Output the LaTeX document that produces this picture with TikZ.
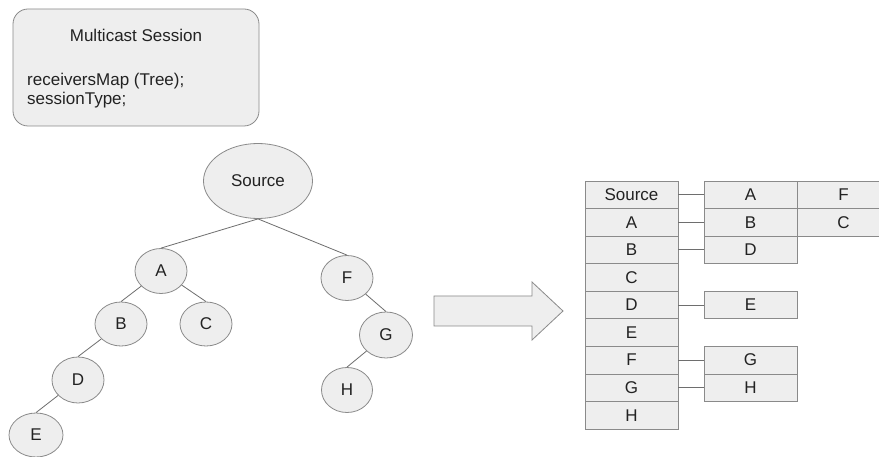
\documentclass[tikz,border=0pt]{standalone}
\usepackage{fontspec}
\setmainfont{Liberation Sans}
\usetikzlibrary{shapes.geometric}
\definecolor{cellfill}{HTML}{EEEEEE}
\definecolor{cellline}{HTML}{8A8A8A}
\definecolor{edgeline}{HTML}{6E6E6E}
\definecolor{txt}{HTML}{222222}
\begin{document}
\begin{tikzpicture}[x=1pt,y=-1pt,
  every node/.style={font=\fontsize{17}{19}\selectfont, text=txt},
  treenode/.style={ellipse, draw=cellline, fill=cellfill, inner sep=0pt, line width=0.8pt},
  cell/.style={rectangle, draw=cellline, fill=cellfill, inner sep=0pt, minimum width=93pt, minimum height=27.56pt, line width=0.8pt},
  edge/.style={draw=edgeline, line width=0.8pt},
]
\useasboundingbox (0,0) rectangle (879,457);
\fill[white] (0,0) rectangle (879,457);

% session box
\node[draw=cellline, fill=cellfill, rounded corners=15pt, minimum width=246pt, minimum height=117pt, line width=0.8pt, inner sep=0pt] (session) at (136,67.5) {};
\node (title) at (136,35) {Multicast Session};
\node[anchor=west, align=left, inner sep=0pt] (fields) at (27,91) {receiversMap (Tree);\\sessionType;};

% tree
\node[treenode, minimum width=109pt, minimum height=75pt] (S) at (258,181) {Source};
\node[treenode, minimum width=52pt, minimum height=45pt] (A) at (161,271) {A};
\node[treenode, minimum width=52pt, minimum height=45pt] (F) at (347,278) {F};
\node[treenode, minimum width=52pt, minimum height=44pt] (B) at (121,324) {B};
\node[treenode, minimum width=52pt, minimum height=44pt] (C) at (206,324) {C};
\node[treenode, minimum width=53pt, minimum height=46pt] (G) at (386,335) {G};
\node[treenode, minimum width=52pt, minimum height=46pt] (D) at (78,380) {D};
\node[treenode, minimum width=51pt, minimum height=45pt] (H) at (347,390) {H};
\node[treenode, minimum width=54pt, minimum height=44pt] (E) at (36,435) {E};

\draw[edge] (S.south) -- (A.north);
\draw[edge] (S.south) -- (F.north);
\draw[edge] (A) -- (B.north);
\draw[edge] (A) -- (C.north);
\draw[edge] (B) -- (D.north);
\draw[edge] (D) -- (E.north);
\draw[edge] (F) -- (G.north);
\draw[edge] (G) -- (H.north);

% big arrow
\draw[draw=cellline, fill=cellfill, line width=0.8pt]
  (434,296) -- (532,296) -- (532,282) -- (563,311) -- (532,340) -- (532,326) -- (434,326) -- cycle;

% table left column
\foreach \i/\t in {0/Source,1/A,2/B,3/C,4/D,5/E,6/F,7/G,8/H}{
  \node[cell] (L\i) at (631.5,{181+27.56*(\i+0.5)}) {\t};
}
% second and third columns
\node[cell] (R0) at (750.5,{181+27.56*0.5}) {A};
\node[cell] (T0) at (843.5,{181+27.56*0.5}) {F};
\node[cell] (R1) at (750.5,{181+27.56*1.5}) {B};
\node[cell] (T1) at (843.5,{181+27.56*1.5}) {C};
\node[cell] (R2) at (750.5,{181+27.56*2.5}) {D};
\node[cell] (R4) at (750.5,{181+27.56*4.5}) {E};
\node[cell] (R6) at (750.5,{181+27.56*6.5}) {G};
\node[cell] (R7) at (750.5,{181+27.56*7.5}) {H};

\foreach \i in {0,1,2,4,6,7}{
  \draw[edge] (L\i.east) -- (R\i.west);
}
\end{tikzpicture}
\end{document}
